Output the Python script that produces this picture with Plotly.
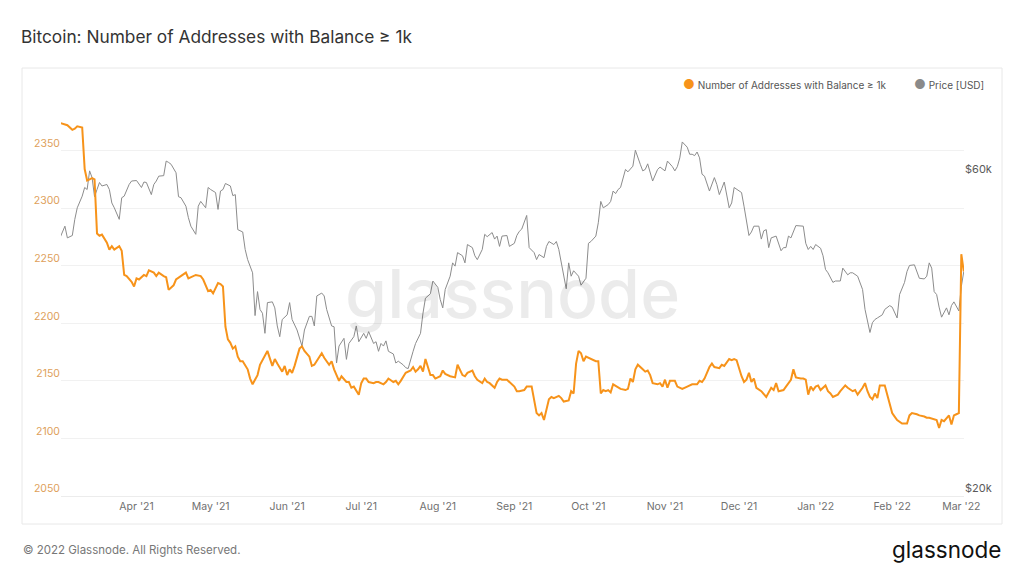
import math
import pandas as pd
import plotly.graph_objects as go

# ---------------- data ----------------
start_date = "2021-03-01"

addr_days = [0, 3, 5, 6, 7, 9, 10, 11, 12, 13, 14, 15, 16, 17, 19, 20, 21, 22, 24, 25, 26, 27, 29, 30, 31, 32, 34, 35, 36, 38,
             39, 40, 42, 43, 44, 46, 47, 49, 51, 52, 53, 55, 57, 58, 60, 61, 62, 64, 65, 66, 67, 68, 69, 70, 71, 72, 73, 74, 76, 77,
             78, 80, 81, 83, 84, 86, 87, 88, 90, 91, 92, 93, 94, 95, 97, 98, 99, 101, 102, 103, 105, 106, 107, 109, 110, 111, 113, 114, 116, 117,
             118, 119, 121, 122, 123, 124, 125, 127, 128, 129, 131, 132, 133, 135, 136, 137, 138, 139, 140, 142, 143, 144, 145, 146, 147, 148, 150, 151, 152, 154,
             155, 156, 158, 160, 161, 163, 164, 165, 167, 168, 169, 171, 172, 173, 174, 176, 177, 178, 179, 181, 182, 184, 185, 186, 188, 189, 191, 192, 193, 194,
             195, 196, 198, 199, 200, 202, 203, 204, 206, 207, 208, 209, 210, 211, 212, 213, 215, 217, 218, 219, 220, 221, 222, 223, 224, 226, 227, 229, 230, 231,
             232, 233, 234, 236, 237, 238, 239, 240, 242, 243, 244, 245, 246, 247, 249, 250, 252, 254, 256, 258, 259, 260, 261, 263, 264, 265, 267, 268, 269, 271,
             272, 273, 274, 276, 277, 278, 279, 280, 281, 282, 284, 286, 288, 289, 290, 291, 293, 294, 296, 297, 298, 300, 301, 302, 303, 304, 305, 306, 307, 308,
             310, 311, 312, 313, 315, 316, 318, 319, 321, 322, 323, 325, 326, 327, 328, 329, 330, 331, 332, 334, 335, 336, 337, 338, 339, 341, 343, 344, 345, 347,
             348, 350, 351, 352, 354, 355, 356, 357, 358, 360, 361, 362, 363, 364, 365, 366]

addr_values = [2374, 2372, 2368, 2369, 2371, 2370, 2334, 2324, 2325, 2326, 2325, 2278, 2276, 2277, 2270, 2264, 2267, 2264, 2267, 2263, 2242, 2241, 2236, 2232, 2239, 2238, 2242, 2241, 2246, 2244,
               2241, 2244, 2241, 2240, 2229, 2233, 2238, 2241, 2244, 2239, 2240, 2242, 2241, 2238, 2228, 2229, 2226, 2235, 2234, 2232, 2197, 2186, 2183, 2178, 2180, 2171, 2167, 2167, 2160, 2152,
               2147, 2155, 2164, 2173, 2176, 2163, 2169, 2165, 2158, 2163, 2155, 2160, 2157, 2163, 2178, 2180, 2176, 2171, 2163, 2164, 2170, 2174, 2170, 2164, 2167, 2160, 2150, 2154, 2149, 2149,
               2144, 2145, 2138, 2148, 2152, 2152, 2149, 2148, 2149, 2149, 2147, 2149, 2152, 2149, 2150, 2147, 2150, 2154, 2157, 2159, 2162, 2158, 2160, 2163, 2158, 2169, 2155, 2155, 2152, 2154,
               2159, 2156, 2154, 2153, 2164, 2155, 2154, 2157, 2159, 2154, 2151, 2148, 2152, 2149, 2148, 2144, 2149, 2152, 2151, 2151, 2149, 2145, 2141, 2141, 2142, 2145, 2145, 2133, 2122, 2120,
               2122, 2116, 2134, 2136, 2135, 2137, 2135, 2132, 2133, 2141, 2139, 2165, 2176, 2174, 2167, 2171, 2169, 2167, 2167, 2139, 2142, 2141, 2142, 2140, 2147, 2144, 2143, 2142, 2143, 2152,
               2149, 2160, 2164, 2160, 2158, 2159, 2155, 2148, 2147, 2148, 2145, 2151, 2144, 2150, 2150, 2145, 2143, 2145, 2147, 2147, 2150, 2149, 2152, 2162, 2165, 2162, 2161, 2164, 2163, 2169,
               2168, 2169, 2168, 2154, 2149, 2151, 2157, 2149, 2152, 2144, 2141, 2136, 2144, 2142, 2148, 2141, 2142, 2145, 2151, 2160, 2153, 2152, 2152, 2151, 2138, 2145, 2142, 2145, 2146, 2142,
               2146, 2141, 2139, 2136, 2138, 2141, 2146, 2144, 2141, 2142, 2138, 2144, 2148, 2141, 2136, 2134, 2139, 2135, 2146, 2146, 2138, 2131, 2122, 2119, 2116, 2113, 2113, 2120, 2122, 2121,
               2120, 2119, 2118, 2118, 2117, 2116, 2109, 2116, 2115, 2120, 2112, 2120, 2121, 2122, 2260, 2245]

price_days = [0, 2, 3, 5, 6, 7, 9, 10, 11, 12, 13, 14, 15, 16, 17, 19, 20, 21, 22, 24, 25, 26, 28, 29, 31, 33, 34, 35, 37, 38,
              39, 40, 42, 43, 44, 45, 47, 48, 49, 51, 52, 53, 55, 56, 57, 59, 60, 61, 63, 64, 65, 66, 67, 69, 70, 71, 72, 74, 75, 76,
              78, 79, 80, 81, 82, 83, 84, 86, 87, 88, 89, 90, 92, 93, 94, 96, 98, 99, 101, 102, 103, 104, 106, 107, 108, 110, 111, 112, 113, 115,
              116, 117, 119, 120, 121, 123, 124, 125, 127, 128, 129, 130, 131, 132, 133, 135, 136, 137, 139, 140, 141, 142, 143, 144, 146, 147, 148, 150, 151, 153,
              154, 155, 156, 158, 159, 160, 161, 163, 164, 165, 167, 168, 169, 171, 172, 173, 175, 176, 177, 178, 179, 181, 182, 184, 185, 186, 187, 189, 190, 192,
              193, 194, 196, 197, 198, 200, 201, 202, 204, 205, 206, 207, 208, 210, 211, 213, 214, 215, 217, 218, 219, 220, 222, 223, 224, 225, 226, 227, 229, 230,
              232, 233, 235, 236, 237, 238, 240, 242, 243, 245, 246, 248, 249, 250, 251, 252, 254, 255, 256, 257, 258, 259, 260, 261, 263, 264, 265, 266, 267, 268,
              269, 271, 272, 273, 275, 276, 277, 279, 280, 281, 283, 284, 285, 286, 287, 288, 290, 291, 292, 293, 294, 295, 296, 298, 299, 301, 302, 303, 304, 305,
              306, 308, 309, 310, 311, 313, 314, 316, 317, 319, 320, 321, 323, 324, 325, 326, 327, 328, 329, 330, 331, 333, 334, 335, 336, 337, 339, 340, 342, 343,
              344, 346, 347, 348, 350, 351, 352, 353, 354, 355, 356, 357, 359, 360, 361, 362, 364, 365, 366]

price_k = [48.6, 50.6, 48.6, 49.0, 51.8, 53.9, 56.1, 57.8, 57.4, 61.2, 59.8, 56.0, 57.4, 58.8, 58.1, 58.4, 57.4, 54.8, 53.9, 51.8, 55.8, 56.1, 58.4, 59.1, 59.2, 57.8, 58.9, 58.8, 56.4, 58.4,
           59.1, 60.1, 60.2, 63.3, 63.0, 62.6, 60.8, 56.0, 55.8, 54.2, 52.1, 50.6, 49.2, 54.2, 55.1, 53.9, 57.8, 57.4, 56.8, 53.6, 57.1, 57.4, 58.6, 58.1, 56.2, 56.4, 50.0, 49.6, 46.7, 45.1,
           43.1, 37.2, 40.4, 38.0, 37.5, 35.0, 38.9, 39.0, 38.2, 35.9, 34.6, 36.7, 37.3, 38.9, 36.7, 35.4, 33.5, 35.4, 37.1, 37.1, 35.9, 39.8, 40.2, 39.8, 38.0, 35.9, 35.8, 31.6, 33.5, 34.4,
           32.0, 33.8, 34.6, 35.9, 34.0, 35.0, 34.4, 35.2, 33.8, 34.0, 32.9, 33.8, 33.5, 34.1, 32.9, 32.6, 31.6, 31.8, 31.4, 31.1, 31.0, 32.1, 32.9, 33.8, 35.0, 37.5, 39.5, 40.1, 41.9, 41.0,
           39.3, 38.2, 40.7, 42.6, 44.6, 44.1, 46.2, 45.7, 44.6, 47.5, 47.0, 45.7, 45.1, 46.7, 49.2, 48.8, 49.5, 48.4, 48.9, 47.2, 48.9, 49.0, 47.2, 47.7, 49.0, 49.7, 50.1, 52.5, 47.0, 46.2,
           45.1, 45.9, 45.4, 47.2, 48.0, 47.5, 48.0, 46.7, 42.6, 40.8, 44.6, 42.6, 43.4, 42.6, 41.3, 42.3, 47.7, 48.0, 48.9, 51.2, 55.1, 53.9, 54.5, 55.1, 57.1, 56.6, 57.4, 57.8, 61.5, 61.0,
           62.2, 65.7, 62.6, 61.2, 61.5, 62.7, 59.1, 61.5, 62.0, 61.2, 63.3, 62.1, 61.2, 62.1, 64.0, 67.6, 66.4, 64.8, 64.8, 64.5, 65.3, 64.0, 60.5, 60.1, 57.1, 58.4, 59.8, 58.4, 56.4, 57.6,
           58.9, 53.9, 54.8, 57.8, 57.1, 56.8, 54.2, 49.0, 49.6, 50.6, 50.6, 48.4, 49.8, 50.0, 47.0, 48.6, 48.9, 47.5, 46.5, 47.0, 47.0, 48.9, 48.6, 50.7, 50.7, 50.6, 47.7, 46.7, 47.2, 46.7,
           47.5, 46.9, 45.7, 43.6, 43.1, 41.7, 41.9, 41.9, 43.8, 42.8, 43.1, 43.1, 42.6, 41.7, 40.7, 38.0, 36.3, 35.1, 36.3, 36.7, 36.9, 37.3, 38.0, 38.2, 38.5, 38.3, 36.9, 40.0, 41.7, 43.3,
           44.2, 44.3, 43.3, 42.3, 42.2, 42.6, 44.6, 43.8, 40.4, 40.0, 38.3, 37.0, 38.2, 37.3, 38.5, 39.0, 37.8, 41.1, 43.3]

addr_ticks = [2050, 2100, 2150, 2200, 2250, 2300, 2350, 2400]
addr_ticktext = ["2050", "2100", "2150", "2200", "2250", "2300", "2350", ""]
price_ticks = [20000, 60000]
price_ticktext = ["$20k", "$60k"]

# ---------------- build ----------------
start = pd.Timestamp(start_date)
addr_dates = [start + pd.Timedelta(days=d) for d in addr_days]
price_dates = [start + pd.Timedelta(days=d) for d in price_days]
price_usd = [v * 1000 for v in price_k]

W, H = 1024, 576
L, R, T, B = 61, 964, 93, 496


def px(x):
    return (x - L) / (R - L)


def py(y):
    return (B - y) / (B - T)


FONT = "Inter, 'Noto Sans', sans-serif"
ORANGE = "#f7931a"
GRAY = "#8c8c8c"

fig = go.Figure()
fig.add_trace(go.Scatter(
    x=price_dates, y=price_usd, mode="lines", yaxis="y",
    line=dict(color=GRAY, width=1), name="Price [USD]", showlegend=False,
))
fig.add_trace(go.Scatter(
    x=addr_dates, y=addr_values, mode="lines", yaxis="y2",
    line=dict(color=ORANGE, width=2), name="Number of Addresses with Balance ≥ 1k", showlegend=False,
))

x_start = start + pd.Timedelta(hours=10)
x_end = start + pd.Timedelta(days=366, hours=2)

fig.update_layout(
    width=W, height=H, autosize=False,
    margin=dict(l=L, r=W - R, t=T, b=H - B, pad=0),
    paper_bgcolor="white", plot_bgcolor="white",
    font=dict(family=FONT, color="#555"),
    showlegend=False,
    title=dict(text="Bitcoin: Number of Addresses with Balance ≥ 1k",
               x=21 / W, xref="container", xanchor="left",
               y=1 - 37 / H, yref="container", yanchor="middle",
               font=dict(family=FONT, size=17.3, color="#333")),
    xaxis=dict(type="date", range=[x_start, x_end], dtick="M1", tick0="2021-03-01",
               tickformat="%b '%y", showgrid=False, zeroline=False,
               showline=True, linecolor="#ececec", linewidth=1, ticks="",
               tickfont=dict(size=10.5, color="#707070", family=FONT)),
    yaxis=dict(type="log", side="right", range=[math.log10(20000), math.log10(80000)],
               tickvals=price_ticks, ticktext=price_ticktext, showgrid=False, zeroline=False,
               ticks="", ticklabelposition="outside top",
               tickfont=dict(size=11, color="#5a5a5a", family=FONT)),
    yaxis2=dict(overlaying="y", side="left", range=[2050, 2400],
                tickvals=addr_ticks, ticktext=addr_ticktext, showgrid=True,
                gridcolor="#f1f1f1", gridwidth=1, zeroline=False, ticks="",
                ticklabelposition="outside top",
                tickfont=dict(size=10.5, color="#dea05a", family=FONT)),
)

# chart frame
fig.add_shape(type="rect", xref="paper", yref="paper",
              x0=px(22), x1=px(1002), y0=py(524), y1=py(68),
              line=dict(color="#e8e8e8", width=1), fillcolor="rgba(0,0,0,0)", layer="below")

# watermark
fig.add_annotation(text="glassnode", xref="paper", yref="paper", x=px(512), y=py(293),
                   showarrow=False, xanchor="center", yanchor="middle",
                   font=dict(family=FONT, size=68, color="rgba(0,0,0,0.08)", weight=500))

# legend (dots + labels)
fig.add_annotation(text="<span style='color:#8a8a8a;font-size:13px'>●</span> Price [USD]",
                   xref="paper", yref="paper", x=px(986), y=py(84), showarrow=False,
                   xanchor="right", yanchor="middle", font=dict(size=10, color="#555", family=FONT))
fig.add_annotation(text="<span style='color:#f7931a;font-size:13px'>●</span> Number of Addresses with Balance ≥ 1k",
                   xref="paper", yref="paper", x=px(889), y=py(84), showarrow=False,
                   xanchor="right", yanchor="middle", font=dict(size=10, color="#555", family=FONT))

# footer
fig.add_annotation(text="© 2022 Glassnode. All Rights Reserved.", xref="paper", yref="paper",
                   x=px(21), y=py(550), showarrow=False, xanchor="left", yanchor="middle",
                   font=dict(size=11.5, color="#777", family=FONT))
fig.add_annotation(text="glassnode", xref="paper", yref="paper",
                   x=px(1003), y=py(549), showarrow=False, xanchor="right", yanchor="middle",
                   font=dict(size=22.5, color="#111", family=FONT, weight=400))

fig.write_html("out.html", config={"displayModeBar": False},
               post_script="document.body.style.margin='0';")
